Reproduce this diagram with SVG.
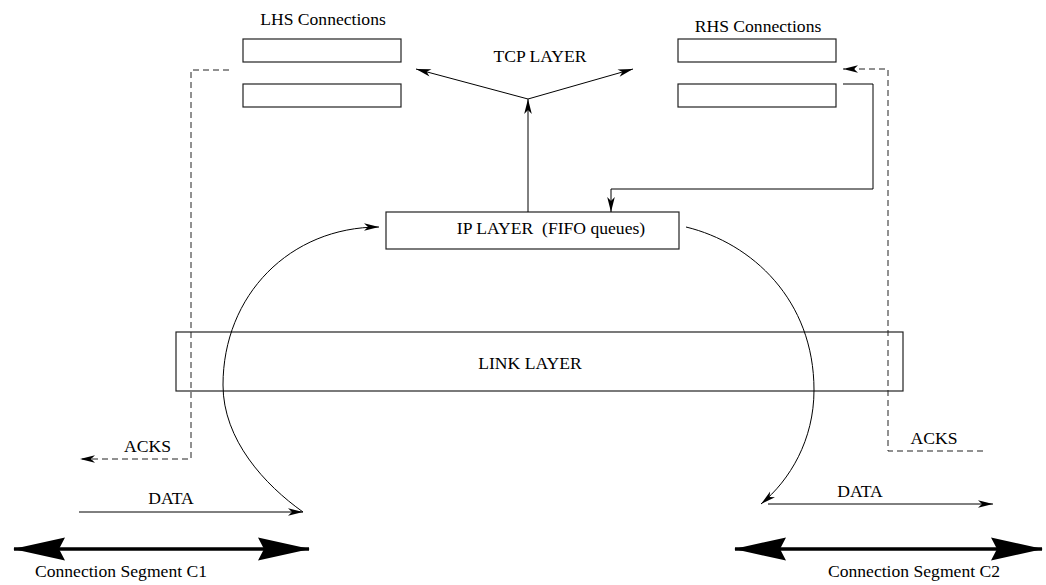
<svg xmlns="http://www.w3.org/2000/svg" width="1046" height="585" viewBox="0 0 1046 585">
<style>
.box{fill:#fff;stroke:#222;stroke-width:1.2}
.ln{fill:none;stroke:#000;stroke-width:1}
.dash{fill:none;stroke:#222;stroke-width:1;stroke-dasharray:6 4}
.thick{fill:none;stroke:#000;stroke-width:3.5}
text{font-family:"Liberation Serif","Times New Roman",serif;font-size:17.6px;fill:#000;text-anchor:middle;white-space:pre}
</style>
<defs>
<marker id="ah" markerUnits="userSpaceOnUse" markerWidth="20" markerHeight="12" viewBox="-16 -6 18 12" refX="0" refY="0" orient="auto">
<path d="M0,0 L-15,-3.8 L-11,0 L-15,3.8 Z" fill="#000" stroke="none"/>
</marker>
<marker id="bigE" markerUnits="userSpaceOnUse" markerWidth="56" markerHeight="26" viewBox="-54 -13 56 26" refX="0" refY="0" orient="auto">
<path d="M1,0 L-51,-11.5 L-45,0 L-51,11.5 Z" fill="#000" stroke="none"/>
</marker>
<marker id="bigS" markerUnits="userSpaceOnUse" markerWidth="56" markerHeight="26" viewBox="-2 -13 56 26" refX="0" refY="0" orient="auto">
<path d="M-1,0 L51,-11.5 L45,0 L51,11.5 Z" fill="#000" stroke="none"/>
</marker>
</defs>

<g id="lhs-connections">
<text x="323" y="25">LHS Connections</text>
<rect class="box" x="243" y="39" width="158" height="23"/>
<rect class="box" x="243" y="84" width="158" height="23"/>
</g>

<g id="rhs-connections">
<text x="758" y="32">RHS Connections</text>
<rect class="box" x="678" y="39" width="158" height="23"/>
<rect class="box" x="678" y="84" width="158" height="23"/>
</g>

<g id="tcp-layer">
<text x="540" y="62">TCP LAYER</text>
</g>

<g id="ip-layer">
<rect class="box" x="386" y="212" width="293" height="37"/>
<text x="551" y="234">IP LAYER  (FIFO queues)</text>
</g>

<g id="link-layer">
<rect class="box" x="176" y="332" width="727" height="59"/>
<text x="530" y="369">LINK LAYER</text>
</g>

<g id="labels">
<text x="147.5" y="452">ACKS</text>
<text x="934" y="444">ACKS</text>
<text x="171" y="504">DATA</text>
<text x="860" y="497">DATA</text>
<text x="121" y="577">Connection Segment C1</text>
<text x="914" y="577">Connection Segment C2</text>
</g>

<g id="connectors">
<path class="ln" d="M528,212 L528,99" marker-end="url(#ah)"/>
<path class="ln" d="M528,99 L416,69" marker-end="url(#ah)"/>
<path class="ln" d="M528,99 L633,69" marker-end="url(#ah)"/>
<path class="ln" d="M843,84 L873,84 L873,189 L611,189 L611,212" marker-end="url(#ah)"/>
<path class="dash" d="M983,451 L888,451 L888,69 L843,69" marker-end="url(#ah)"/>
<path class="dash" d="M229,70 L191,70 L191,459 L80,459" marker-end="url(#ah)"/>
<path class="ln" d="M79,512 L303,512" marker-end="url(#ah)"/>
<path class="ln" d="M768,504 L993,504" marker-end="url(#ah)"/>
<path class="ln" d="M303,512 C265,485 223,440 223,385 C223,295 290,227 379,227" marker-end="url(#ah)"/>
<path class="ln" d="M686,227 C752,243 814,300 814,390 C814,440 790,480 761,504" marker-end="url(#ah)"/>
<path class="thick" d="M14,549 L309,549" marker-start="url(#bigS)" marker-end="url(#bigE)"/>
<path class="thick" d="M735,549 L1042,549" marker-start="url(#bigS)" marker-end="url(#bigE)"/>
</g>
</svg>
